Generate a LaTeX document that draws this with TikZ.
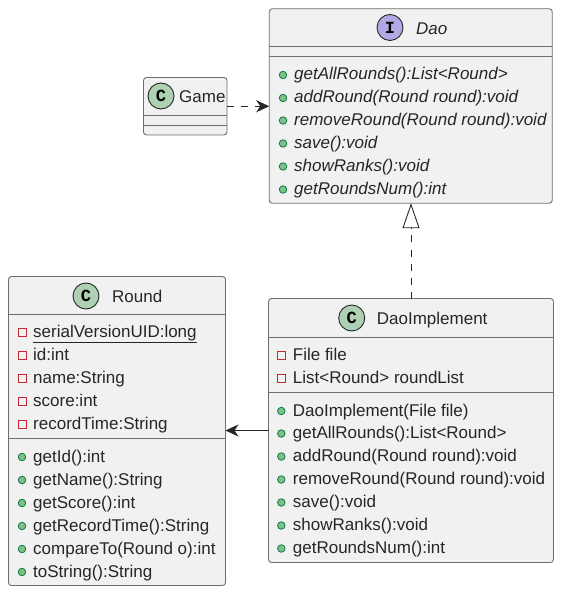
\documentclass[tikz,border=0pt]{standalone}
\usepackage{fontspec}
\setmainfont{Liberation Sans}
\newfontfamily\spotfont{Liberation Mono}
\usetikzlibrary{arrows.meta}
\definecolor{boxfill}{HTML}{F1F1F1}
\definecolor{boxline}{HTML}{6E6E6E}
\definecolor{classspot}{HTML}{ADD1B2}
\definecolor{ifacespot}{HTML}{B4A7E5}
\definecolor{pubfill}{HTML}{84BE84}
\definecolor{publine}{HTML}{038048}
\definecolor{privline}{HTML}{C82930}
\tikzset{
  umlbox/.style={draw=boxline,fill=boxfill,rounded corners=3,line width=0.9,inner sep=0,outer sep=0},
  divider/.style={draw=boxline,line width=0.9},
  spot/.style={circle,draw=black!85,line width=0.9,minimum size=26,inner sep=0,font=\spotfont\bfseries\fontsize{17}{17}\selectfont},
  member/.style={anchor=west,inner sep=0,text height=12.5,text depth=3.5,text=black!85,font=\fontsize{17}{20}\selectfont},
  title/.style={member},
  pub/.style={circle,draw=publine,fill=pubfill,line width=0.8,minimum size=7.5,inner sep=0},
  priv/.style={rectangle,draw=privline,line width=0.8,minimum size=8,inner sep=0},
  link/.style={draw=black!85,line width=0.9},
}
\begin{document}
\begin{tikzpicture}[x=1pt,y=-1pt]
        \useasboundingbox (0,0) rectangle (561,593);

        \begin{scope}[every node/.style={umlbox}]
          \node[minimum width=283,minimum height=194.5] (dao)   at (410.75,106) {};
          \node[minimum width=83.5,minimum height=57.5] (game)  at (185.25,106.25) {};
          \node[minimum width=217,minimum height=309]   (round) at (117,431) {};
          \node[minimum width=285,minimum height=264]   (impl)  at (411,430.5) {};
        \end{scope}

        \path[divider] (dao.west |- 0,46.5) -- (dao.east |- 0,46.5);
        \path[divider] (dao.west |- 0,56.5) -- (dao.east |- 0,56.5);
        \path[divider] (game.west |- 0,115.5) -- (game.east |- 0,115.5);
        \path[divider] (game.west |- 0,125.5) -- (game.east |- 0,125.5);
        \path[divider] (round.west |- 0,314.5) -- (round.east |- 0,314.5);
        \path[divider] (round.west |- 0,438.5) -- (round.east |- 0,438.5);
        \path[divider] (impl.west |- 0,337.5) -- (impl.east |- 0,337.5);
        \path[divider] (impl.west |- 0,392.5) -- (impl.east |- 0,392.5);

        \node[spot,fill=ifacespot] (daospot)   at (390,27.5) {I};
        \node[spot,fill=classspot] (gamespot)  at (161,96) {C};
        \node[spot,fill=classspot] (roundspot) at (86,296) {C};
        \node[spot,fill=classspot] (implspot)  at (351.7,318) {C};

        \node[title] (daotitle)   at (416,30) {\itshape Dao};
        \node[title] (gametitle)  at (179,98) {Game};
        \node[title] (roundtitle) at (112,297.5) {Round};
        \node[title] (impltitle)  at (376.7,320) {DaoImplement};

        \begin{scope}[every node/.append style={}]
          \node[pub] (dp1) at (283,75)    {}; \node[member] (dm1) at (294,75.5)  {\itshape getAllRounds():List<Round>};
          \node[pub] (dp2) at (283,98)    {}; \node[member] (dm2) at (294,98.5)  {\itshape addRound(Round round):void};
          \node[pub] (dp3) at (283,120.5) {}; \node[member] (dm3) at (294,121)   {\itshape removeRound(Round round):void};
          \node[pub] (dp4) at (283,143.5) {}; \node[member] (dm4) at (294,144)   {\itshape save():void};
          \node[pub] (dp5) at (283,166.5) {}; \node[member] (dm5) at (294,167)   {\itshape showRanks():void};
          \node[pub] (dp6) at (283,189.5) {}; \node[member] (dm6) at (294,190)   {\itshape getRoundsNum():int};

          \node[priv] (rp1) at (22,332.5) {}; \node[member] (rm1) at (33,333)   {\underline{serialVersionUID:long}};
          \node[priv] (rp2) at (22,355.5) {}; \node[member] (rm2) at (33,356)   {id:int};
          \node[priv] (rp3) at (22,378.5) {}; \node[member] (rm3) at (33,379)   {name:String};
          \node[priv] (rp4) at (22,401)   {}; \node[member] (rm4) at (33,401.5) {score:int};
          \node[priv] (rp5) at (22,424)   {}; \node[member] (rm5) at (33,424.5) {recordTime:String};
          \node[pub] (rp6)  at (22,457)   {}; \node[member] (rm6)  at (33,457.5) {getId():int};
          \node[pub] (rp7)  at (22,480)   {}; \node[member] (rm7)  at (33,480.5) {getName():String};
          \node[pub] (rp8)  at (22,503)   {}; \node[member] (rm8)  at (33,503.5) {getScore():int};
          \node[pub] (rp9)  at (22,526)   {}; \node[member] (rm9)  at (33,526.5) {getRecordTime():String};
          \node[pub] (rp10) at (22,549)   {}; \node[member] (rm10) at (33,549.5) {compareTo(Round o):int};
          \node[pub] (rp11) at (22,572)   {}; \node[member] (rm11) at (33,572.5) {toString():String};

          \node[priv] (ip1) at (281.3,355) {}; \node[member] (im1) at (292.7,355.5) {File file};
          \node[priv] (ip2) at (281.3,378) {}; \node[member] (im2) at (292.7,378.5) {List<Round> roundList};
          \node[pub] (ip3) at (281.3,411)   {}; \node[member] (im3) at (292.7,411.5) {DaoImplement(File file)};
          \node[pub] (ip4) at (281.3,433.5) {}; \node[member] (im4) at (292.7,434)   {getAllRounds():List<Round>};
          \node[pub] (ip5) at (281.3,456.5) {}; \node[member] (im5) at (292.7,457)   {addRound(Round round):void};
          \node[pub] (ip6) at (281.3,479.5) {}; \node[member] (im6) at (292.7,480)   {removeRound(Round round):void};
          \node[pub] (ip7) at (281.3,502.5) {}; \node[member] (im7) at (292.7,503)   {save():void};
          \node[pub] (ip8) at (281.3,525.5) {}; \node[member] (im8) at (292.7,526)   {showRanks():void};
          \node[pub] (ip9) at (281.3,548.5) {}; \node[member] (im9) at (292.7,549)   {getRoundsNum():int};
        \end{scope}

        \draw[link,dash pattern=on 7 off 7,-{Stealth[length=13,width=12,inset=4]}] (game.east) -- (game.east -| dao.west);
        \draw[link,dash pattern=on 7 off 7,-{Triangle[open,length=25,width=17,fill=white]}] (impl.north) -- (impl.north |- dao.south);
        \draw[link,-{Stealth[length=13,width=12,inset=4]}] (impl.west) -- (impl.west -| round.east);

      \end{tikzpicture}
\end{document}
